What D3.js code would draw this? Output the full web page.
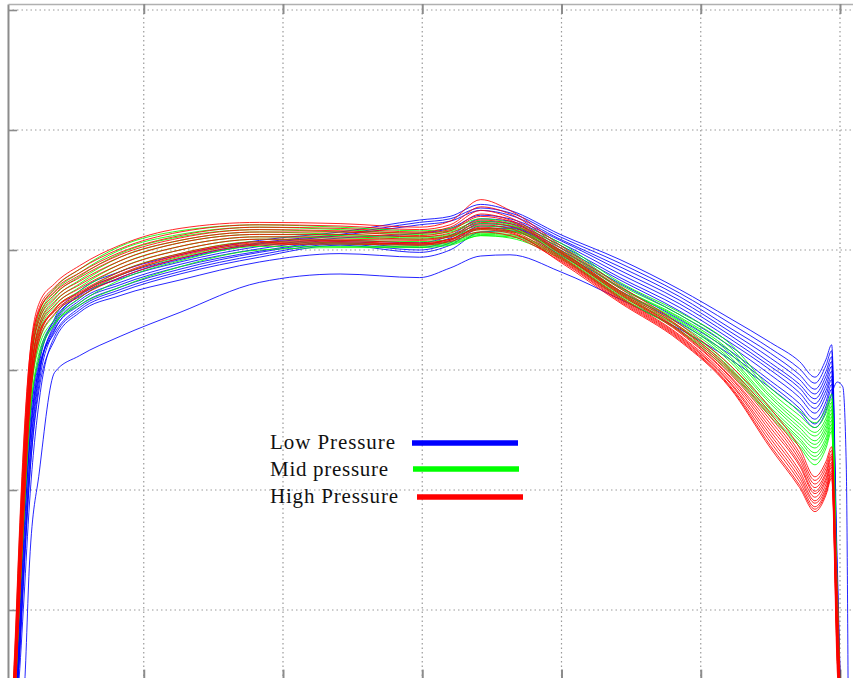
<!DOCTYPE html>
<html>
<head>
<meta charset="utf-8">
<script src="https://cdn.jsdelivr.net/npm/d3@7"></script>
<style>
  html, body { margin: 0; padding: 0; background: #fff; overflow: hidden; }
  svg { display: block; }
</style>
</head>
<body>
<svg id="chart" width="853" height="678"></svg>
<script>
// Shared sample positions along the stroke
const positions = [0.5, 0.8, 1.0, 1.4, 1.8, 2.5, 3.6, 5.4, 8.3, 12.6, 18.3, 24.1, 29.8, 32.0, 34.2, 36.3,
                   39.9, 44.2, 48.5, 52.1, 55.0, 57.1, 58.2, 59.0, 59.4, 59.8, 60.2, 60.45, 60.6];

// Low pressure runs
const lowPressure = [
  [0.1, 2, 6, 16, 24, 30.5, 34.3, 36.6, 38.2, 39.6, 40.8, 41.5, 42.5, 42.8, 43.8, 43.3, 41.3, 39.2, 36.7, 34.3, 32.3, 30.7, 29.4, 30.9, 32.1, 14, 0, 0, 0],
  [0.2, 3, 8, 18, 25, 30.8, 34.0, 36.3, 37.9, 39.3, 40.6, 41.3, 42.3, 42.6, 43.5, 43.1, 41.1, 38.9, 36.4, 33.9, 31.8, 30.1, 28.9, 30.4, 31.6, 12, 0, 0, 0],
  [0.1, 1.5, 5, 14, 22, 29.5, 33.8, 36.0, 37.7, 39.2, 40.5, 41.2, 42.1, 42.4, 43.3, 42.9, 40.9, 38.6, 36.1, 33.5, 31.4, 29.6, 28.4, 29.9, 31.1, 11, 0, 0, 0],
  [0.3, 3.5, 9, 19, 25.5, 31.2, 34.2, 36.2, 37.6, 39.0, 40.3, 41.0, 41.4, 41.8, 42.9, 42.6, 40.8, 38.3, 35.8, 33.2, 31.0, 29.2, 28.0, 29.5, 30.7, 13, 0, 0, 0],
  [0.1, 2.5, 7, 16.5, 23.5, 30.0, 33.6, 35.8, 37.3, 38.8, 40.1, 40.8, 40.6, 41.2, 42.6, 42.4, 40.6, 38.0, 35.5, 32.9, 30.6, 28.8, 27.6, 29.1, 30.3, 10, 0, 0, 0],
  [0.2, 1.5, 4.5, 13, 21, 29.0, 33.3, 35.6, 37.1, 38.6, 39.9, 40.7, 40.4, 41.0, 42.4, 42.2, 40.4, 37.7, 35.2, 32.6, 30.3, 28.5, 27.2, 28.7, 29.9, 9, 0, 0, 0],
  [0.1, 2, 6, 15, 22.5, 29.8, 33.4, 35.4, 36.9, 38.4, 39.8, 40.6, 40.2, 40.8, 42.2, 42.0, 40.2, 37.5, 34.9, 32.3, 30.0, 28.1, 26.8, 28.3, 29.5, 11, 0, 0, 0],
  [0.3, 3, 8, 17.5, 24, 30.3, 33.1, 35.2, 36.7, 38.2, 39.6, 40.5, 40.0, 40.6, 42.0, 41.9, 40.0, 37.2, 34.6, 32.0, 29.6, 27.7, 26.4, 27.9, 29.2, 8, 0, 0, 0],
  [0.1, 1, 3.5, 11, 19, 27.5, 32.8, 35.0, 36.5, 38.0, 39.4, 40.4, 39.8, 40.4, 41.8, 41.8, 39.8, 36.9, 34.2, 31.6, 29.1, 27.2, 25.9, 27.4, 28.8, 10, 0, 0, 0],
  [0.1, 1.5, 5, 13.5, 21, 28.5, 32.5, 34.8, 36.2, 37.5, 39.0, 39.7, 39.4, 40.0, 41.5, 41.6, 39.6, 36.6, 33.9, 31.3, 28.8, 26.8, 25.5, 27.0, 28.4, 9, 0, 0, 0],
  [0, 0, 0.3, 3, 14, 21.5, 29.8, 31.2, 32.8, 34.8, 37.3, 38.0, 37.7, 38.5, 39.5, 39.6, 38.2, 35.9, 33.4, 30.9, 28.5, 26.5, 25.2, 26.6, 28.0, 29.0, 28.6, 22, 0]
];

// Mid pressure runs
const midPressure = [
  [0.8, 7, 13, 23, 30, 34.8, 36.8, 38.4, 40.3, 41.6, 42.1, 41.9, 41.6, 41.8, 42.6, 42.3, 40.6, 37.3, 34.8, 32.2, 28.5, 26.6, 25.6, 26.8, 28.0, 12, 0, 0, 0],
  [0.4, 6, 12, 22, 29.5, 34.5, 36.5, 38.1, 40.0, 41.3, 41.9, 41.7, 41.4, 41.6, 42.4, 42.1, 40.4, 37.1, 34.6, 31.9, 28.2, 26.2, 25.2, 26.4, 27.6, 10, 0, 0, 0],
  [0.6, 7.5, 13.5, 23, 29.5, 34.2, 36.2, 37.8, 39.7, 41.1, 41.7, 41.5, 41.3, 41.5, 42.2, 42.0, 40.2, 36.9, 34.4, 31.6, 27.9, 25.8, 24.8, 26.0, 27.3, 9, 0, 0, 0],
  [0.3, 5, 11, 21, 28.5, 33.8, 35.9, 37.5, 39.4, 40.8, 41.5, 41.3, 41.1, 41.3, 42.0, 41.8, 40.0, 36.8, 34.3, 31.4, 27.7, 25.5, 24.5, 25.7, 27.0, 11, 0, 0, 0],
  [0.5, 6, 12, 21.5, 28.5, 33.5, 35.6, 37.2, 39.1, 40.6, 41.3, 41.2, 41.0, 41.2, 41.8, 41.7, 39.9, 36.6, 34.1, 31.1, 27.4, 25.2, 24.1, 25.4, 26.7, 9, 0, 0, 0],
  [0.2, 4.5, 10, 19.5, 27, 33.2, 35.3, 36.9, 38.8, 40.3, 41.1, 41.0, 40.9, 41.1, 41.7, 41.6, 39.8, 36.5, 34.0, 30.9, 27.2, 24.9, 23.8, 25.1, 26.4, 8, 0, 0, 0],
  [0.4, 5.5, 11, 20.5, 27.5, 32.8, 35.0, 36.6, 38.5, 40.0, 40.9, 40.8, 40.7, 40.9, 41.5, 41.5, 39.7, 36.4, 33.8, 30.7, 26.9, 24.6, 23.5, 24.8, 26.1, 10, 0, 0, 0],
  [0.2, 4, 9, 18.5, 26.5, 32.4, 34.6, 36.3, 38.2, 39.7, 40.7, 40.6, 40.5, 40.7, 41.4, 41.3, 39.6, 36.3, 33.6, 30.4, 26.7, 24.3, 23.1, 24.4, 25.8, 7, 0, 0, 0],
  [0.3, 5, 10.5, 20, 27, 32.0, 34.2, 36.0, 37.9, 39.4, 40.5, 40.5, 40.4, 40.6, 41.3, 41.2, 39.5, 36.2, 33.5, 30.2, 26.5, 24.1, 22.8, 24.1, 25.5, 8, 0, 0, 0],
  [0.1, 3.5, 8.5, 17.5, 25.5, 31.5, 33.9, 35.6, 37.5, 39.1, 40.3, 40.3, 40.3, 40.5, 41.2, 41.1, 39.4, 36.1, 33.3, 30.0, 26.3, 23.8, 22.5, 23.8, 25.2, 6, 0, 0, 0],
  [0.2, 4, 9, 18, 26, 31.0, 33.8, 35.4, 36.9, 38.6, 40.0, 40.2, 40.2, 40.4, 41.2, 41.0, 39.3, 36.0, 33.2, 29.8, 26.1, 23.6, 22.1, 23.5, 24.9, 7, 0, 0, 0]
];

// High pressure runs
const highPressure = [
  [1, 8, 14, 24, 31, 35.6, 37.2, 38.7, 40.4, 41.8, 42.3, 42.2, 41.9, 42.4, 44.2, 43.3, 40.4, 37.0, 33.8, 30.4, 26.8, 23.5, 21.1, 22.4, 23.6, 12, 0, 0, 0],
  [0.6, 7, 13, 23, 30.5, 35.2, 36.9, 38.4, 40.1, 41.5, 42.1, 42.0, 41.7, 42.1, 43.6, 43.0, 40.2, 36.8, 33.6, 30.1, 26.4, 23.1, 20.8, 22.1, 23.3, 10, 0, 0, 0],
  [0.3, 6, 12, 22, 30, 34.9, 36.7, 38.1, 39.8, 41.2, 41.9, 41.8, 41.5, 41.9, 43.3, 42.7, 40.0, 36.6, 33.5, 29.9, 26.1, 22.8, 20.5, 21.8, 23.0, 9, 0, 0, 0],
  [0.8, 8.5, 14.5, 24.5, 31, 35.0, 36.5, 37.9, 39.6, 41.0, 41.7, 41.6, 41.4, 41.7, 43.0, 42.5, 39.9, 36.5, 33.3, 29.7, 25.8, 22.5, 20.2, 21.5, 22.8, 8, 0, 0, 0],
  [0.2, 5, 11, 21, 29, 34.5, 36.3, 37.7, 39.4, 40.8, 41.5, 41.5, 41.2, 41.6, 42.8, 42.4, 39.8, 36.4, 33.2, 29.5, 25.5, 22.2, 19.9, 21.3, 22.6, 9, 0, 0, 0],
  [0.5, 6.5, 12.5, 22.5, 29.5, 34.2, 36.0, 37.4, 39.1, 40.6, 41.3, 41.3, 41.1, 41.4, 42.5, 42.2, 39.7, 36.3, 33.1, 29.4, 25.2, 22.0, 19.7, 21.0, 22.3, 7, 0, 0, 0],
  [0.2, 4.5, 10, 20, 28, 33.8, 35.7, 37.1, 38.8, 40.3, 41.1, 41.1, 40.9, 41.2, 42.3, 42.0, 39.5, 36.1, 32.9, 29.2, 24.9, 21.6, 19.4, 20.8, 22.1, 8, 0, 0, 0],
  [0.4, 5.5, 11, 21, 28.5, 33.5, 35.4, 36.8, 38.5, 40.0, 40.9, 40.9, 40.8, 41.1, 42.1, 41.8, 39.4, 36.0, 32.8, 29.0, 24.6, 21.3, 19.1, 20.5, 21.9, 6, 0, 0, 0],
  [0.1, 4, 9, 19, 27, 33.0, 35.1, 36.5, 38.2, 39.7, 40.7, 40.8, 40.6, 40.9, 41.9, 41.6, 39.3, 35.9, 32.7, 28.9, 24.3, 21.0, 18.9, 20.2, 21.6, 7, 0, 0, 0],
  [0.3, 5, 10.5, 20.5, 28, 33.2, 34.9, 36.3, 37.9, 39.5, 40.5, 40.6, 40.5, 40.8, 41.7, 41.4, 39.2, 35.8, 32.6, 28.7, 24.0, 20.7, 18.6, 20.0, 21.4, 6, 0, 0, 0],
  [0.1, 3.5, 8.5, 18, 26.5, 32.5, 34.7, 36.1, 37.7, 39.3, 40.4, 40.5, 40.4, 40.7, 41.5, 41.2, 39.1, 35.7, 32.5, 28.6, 23.7, 20.4, 18.4, 19.8, 21.2, 7, 0, 0, 0],
  [0.2, 4.5, 9.5, 19.5, 27.5, 32.8, 35.0, 36.4, 38.0, 39.6, 40.6, 40.7, 40.5, 40.9, 41.8, 41.5, 39.0, 35.6, 32.4, 28.5, 23.5, 20.2, 18.2, 19.6, 21.0, 5, 0, 0, 0]
];

const xTicks = [10, 20, 30, 40, 50, 60];
const yTicks = [10, 20, 30, 40, 50, 60];
const legendLabels = ["Low Pressure", "Mid pressure", "High Pressure"];
const seriesColors = ["#0000ff", "#00ff00", "#ff0000"];

// Scales
const x = d3.scaleLinear().domain([0, 60]).range([4.5, 840]);
const y = d3.scaleLinear().domain([0, 60]).range([730, 10]);

// Visible frame (the plot is cut off on the right and bottom)
const frame = { x0: 0.25, x1: 61.0, y0: 4.2, y1: 60.5 };
const fx0 = x(frame.x0), fx1 = x(frame.x1), fy0 = y(frame.y0), fy1 = y(frame.y1);

const svg = d3.select("#chart");
svg.append("rect").attr("width", 853).attr("height", 678).attr("fill", "#fff");

svg.append("defs").append("clipPath").attr("id", "plotClip")
  .append("rect").attr("x", fx0).attr("y", fy1).attr("width", fx1 - fx0).attr("height", fy0 - fy1);

// Dotted grid
const grid = svg.append("g").attr("stroke", "#9a9a9a").attr("stroke-width", 1.2)
  .attr("stroke-dasharray", "1.5,3");
grid.selectAll(".gx").data(xTicks).join("line")
  .attr("x1", d => x(d)).attr("x2", d => x(d)).attr("y1", fy1).attr("y2", fy0);
grid.selectAll(".gy").data(yTicks).join("line")
  .attr("x1", fx0).attr("x2", fx1).attr("y1", d => y(d)).attr("y2", d => y(d));

// Axes: ticks point inward, no labels
const yAxisScale = y.copy().domain([frame.y0, frame.y1]).range([fy0, fy1]);
const xAxisScale = x.copy().domain([frame.x0, frame.x1]).range([fx0, fx1]);

const leftAxis = svg.append("g").attr("transform", `translate(${fx0},0)`)
  .call(d3.axisLeft(yAxisScale).tickValues(yTicks).tickSize(-9).tickSizeOuter(0).tickFormat(""));
const topAxis = svg.append("g").attr("transform", `translate(0,${fy1})`)
  .call(d3.axisTop(xAxisScale).tickValues(xTicks).tickSize(-10).tickSizeOuter(0).tickFormat(""));
const bottomAxis = svg.append("g").attr("transform", `translate(0,${fy0})`)
  .call(d3.axisBottom(xAxisScale).tickValues(xTicks).tickSize(-10).tickSizeOuter(0).tickFormat(""));

leftAxis.select(".domain").attr("stroke", "#8c8c8c").attr("stroke-width", 2);
leftAxis.selectAll(".tick line").attr("stroke", "#8c8c8c").attr("stroke-width", 1.6);
topAxis.select(".domain").attr("stroke", "#b0b0b0").attr("stroke-width", 1.6);
topAxis.selectAll(".tick line").attr("stroke", "#8c8c8c").attr("stroke-width", 2);
bottomAxis.select(".domain").attr("stroke", "#8c8c8c").attr("stroke-width", 2);
bottomAxis.selectAll(".tick line").attr("stroke", "#8c8c8c").attr("stroke-width", 2);

// Curves
const line = d3.line()
  .x((d, i) => x(positions[i]))
  .y(d => y(d))
  .curve(d3.curveMonotoneX);

const plot = svg.append("g").attr("clip-path", "url(#plotClip)");
[lowPressure, midPressure, highPressure].forEach((runs, k) => {
  plot.append("g")
    .selectAll("path").data(runs).join("path")
    .attr("d", line)
    .attr("fill", "none")
    .attr("stroke", seriesColors[k])
    .attr("stroke-width", 1)
    .attr("stroke-opacity", 0.85)
    .attr("stroke-linejoin", "round");
});

// Legend
const legendRows = [
  { ty: 449, lx1: 412, lx2: 518, ly: 443 },
  { ty: 476, lx1: 413, lx2: 519, ly: 469 },
  { ty: 503, lx1: 417, lx2: 523, ly: 497 }
];
const legend = svg.append("g");
legendLabels.forEach((label, i) => {
  const r = legendRows[i];
  legend.append("text")
    .attr("x", 270).attr("y", r.ty)
    .attr("font-family", "'Liberation Serif', 'DejaVu Serif', serif")
    .attr("font-size", 21)
    .attr("fill", "#111")
    .attr("textLength", i === 1 ? 118 : (i === 0 ? 125 : 128))
    .attr("lengthAdjust", "spacing")
    .text(label);
  legend.append("line")
    .attr("x1", r.lx1).attr("x2", r.lx2).attr("y1", r.ly).attr("y2", r.ly)
    .attr("stroke", seriesColors[i]).attr("stroke-width", 5.5);
});
</script>
</body>
</html>
